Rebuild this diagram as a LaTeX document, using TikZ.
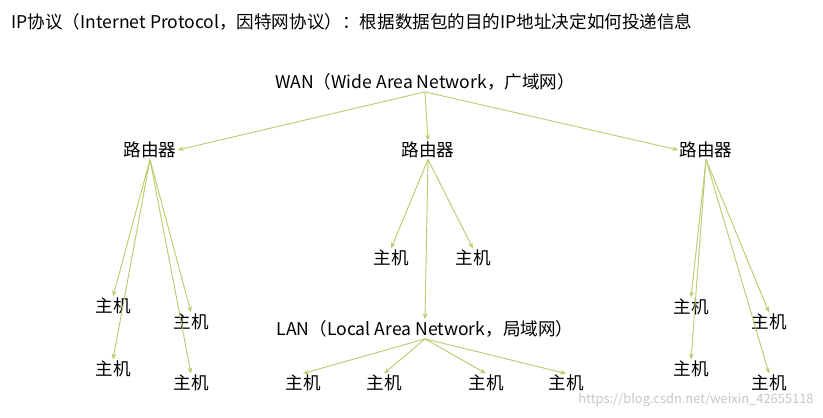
\documentclass[tikz,border=0pt]{standalone}
\usepackage{fontspec}
\setmainfont{Noto Sans CJK SC}
\usetikzlibrary{arrows.meta}
\definecolor{linkgreen}{RGB}{186,204,110}
\tikzset{
  every node/.style={font=\fontsize{15}{18}\selectfont, inner sep=1pt},
  link/.style={draw=linkgreen, line width=0.8pt, -{Stealth[length=5pt,width=4pt]}},
}
\begin{document}
\begin{tikzpicture}[x=0.3mm, y=-0.3mm]
\useasboundingbox (0,0) rectangle (823,418);
\node[anchor=west] (title) at (10,22) {IP协议（Internet Protocol，因特网协议）：根据数据包的目的IP地址决定如何投递信息};
\node (wan) at (425,82) {WAN（Wide Area Network，广域网）};
%routers
\node (r1) at (150,150) {路由器};
\node (r2) at (428,150) {路由器};
\node (r3) at (706,150) {路由器};
\draw[link] (wan.south) -- (r1.east);
\draw[link] (wan.south) -- (r2.north);
\draw[link] (wan.south) -- (r3.west);
%left branch
\node (h1) at (113,306) {主机}; \node (h2) at (113,369) {主机};
\node (h3) at (191,322) {主机}; \node (h4) at (191,383) {主机};
\foreach \h in {h1,h2,h3,h4} \draw[link] (r1.south) -- (\h.north);
%middle branch
\node (m1) at (391,258) {主机}; \node (m2) at (473,258) {主机};
\node (lan) at (425,329) {LAN（Local Area Network，局域网）};
\foreach \h in {m1,m2,lan} \draw[link] (r2.south) -- (\h.north);
\node (l1) at (303,383) {主机}; \node (l2) at (384,383) {主机};
\node (l3) at (486,383) {主机}; \node (l4) at (566,383) {主机};
\foreach \h in {l1,l2,l3,l4} \draw[link] (lan.south) -- (\h.north);
%right branch
\node (k1) at (691,307) {主机}; \node (k2) at (691,369) {主机};
\node (k3) at (769,322) {主机}; \node (k4) at (769,383) {主机};
\foreach \h in {k1,k2,k3,k4} \draw[link] (r3.south) -- (\h.north);
\node[anchor=east, text=gray!45, font=\fontsize{11}{13}\selectfont] (mark) at (815,400) {https://blog.csdn.net/weixin\_42655118};
\end{tikzpicture}
\end{document}
